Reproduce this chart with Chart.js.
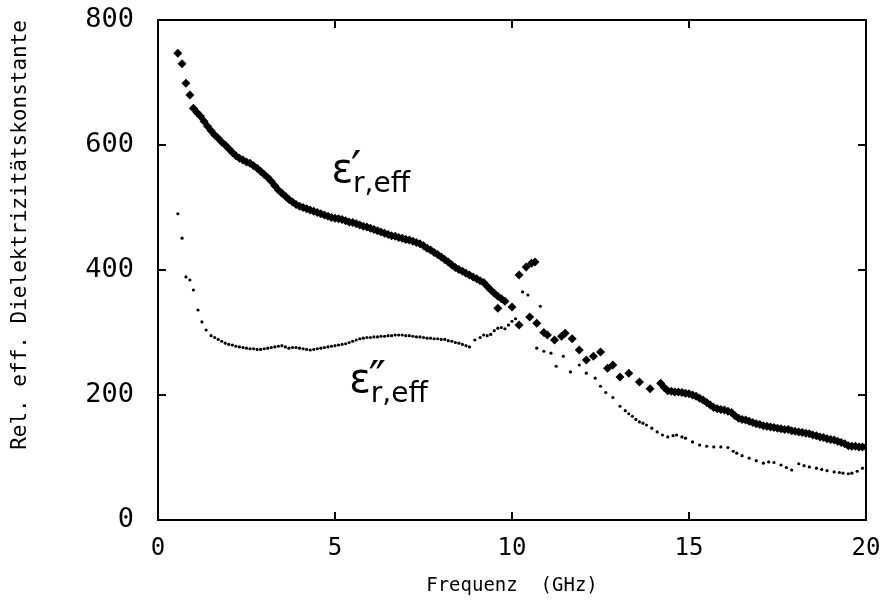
<!DOCTYPE html>
<html>
<head>
<meta charset="utf-8">
<script src="https://cdn.jsdelivr.net/npm/chart.js@4"></script>
<style>
  html, body { margin: 0; padding: 0; background: #fff; }
  canvas { display: block; }
</style>
</head>
<body>
<canvas id="myGraph" width="882" height="607"></canvas>
<script>
// Frequenz (GHz) und Werte
const freqReal = [0.56, 0.68, 0.79, 0.9,
  1.0, 1.1, 1.2, 1.3, 1.4, 1.5, 1.6, 1.7, 1.8, 1.9, 2.0, 2.1, 2.2, 2.3, 2.4, 2.5, 2.6, 2.7, 2.8, 2.9,
  3.0, 3.1, 3.2, 3.3, 3.4, 3.5, 3.6, 3.7, 3.8, 3.9, 4.0, 4.1, 4.2, 4.3, 4.4, 4.5, 4.6, 4.7, 4.8, 4.9,
  5.0, 5.1, 5.2, 5.3, 5.4, 5.5, 5.6, 5.7, 5.8, 5.9, 6.0, 6.1, 6.2, 6.3, 6.4, 6.5, 6.6, 6.7, 6.8, 6.9,
  7.0, 7.1, 7.2, 7.3, 7.4, 7.5, 7.6, 7.7, 7.8, 7.9, 8.0, 8.1, 8.2, 8.3, 8.4, 8.5, 8.6, 8.7, 8.8, 8.9,
  9.0, 9.1, 9.2, 9.3, 9.4, 9.5, 9.6, 9.7, 9.8,
  9.6, 10.0, 10.2, 10.2, 10.4, 10.55, 10.65, 10.5, 10.7, 10.9, 11.0, 11.2, 11.4, 11.5, 11.7, 11.9,
  12.1, 12.3, 12.5, 12.7, 12.85, 13.05, 13.3, 13.6, 13.9, 14.2,
  14.3, 14.4, 14.5, 14.6, 14.7, 14.8, 14.9, 15.0, 15.1, 15.2, 15.3, 15.4, 15.5, 15.6, 15.7, 15.8, 15.9,
  16.0, 16.1, 16.2, 16.3, 16.4, 16.5, 16.6, 16.7, 16.8, 16.9, 17.0, 17.1, 17.2, 17.3, 17.4, 17.5, 17.6, 17.7, 17.8, 17.9,
  18.0, 18.1, 18.2, 18.3, 18.4, 18.5, 18.6, 18.7, 18.8, 18.9, 19.0, 19.1, 19.2, 19.3, 19.4, 19.5, 19.6, 19.7, 19.8, 19.9, 20.0];
const epsReal = [747, 730, 699, 680,
  659, 652, 646, 638, 630, 623, 616, 611, 605, 600, 594, 588, 583, 579, 576, 573, 571, 567, 563, 558,
  553, 548, 542, 535, 528, 523, 518, 513, 509, 505, 502, 500, 498, 496, 494, 492, 490, 488, 486, 484,
  483, 482, 481, 479, 477, 476, 474, 472, 470, 469, 467, 465, 463, 461, 459, 457, 455, 454, 452, 451,
  449, 448, 446, 444, 442, 439, 435, 432, 428, 425, 421, 417, 413, 408, 404, 401, 398, 395, 392, 389,
  386, 383, 380, 374, 368, 363, 358, 354, 350,
  339, 341, 312, 392, 405, 411, 413, 325, 315, 300, 296, 288, 294, 299, 290, 272,
  256, 262, 269, 243, 248, 229, 235, 221, 210, 219,
  212, 207, 206, 205, 205, 204, 203, 202, 200, 198, 195, 192, 188, 184, 180, 178, 177,
  176, 174, 172, 167, 163, 161, 160, 158, 156, 154, 153, 151, 150, 149, 148, 147, 146, 145, 145, 143,
  142, 141, 140, 139, 138, 136, 135, 133, 132, 130, 129, 128, 126, 124, 122, 119, 118, 118, 117, 117, 117];

const freqImag = [0.56, 0.68, 0.79, 0.9, 1.0, 1.13, 1.24, 1.36,
  1.5, 1.6, 1.7, 1.8, 1.9, 2.0, 2.1, 2.2, 2.3, 2.4, 2.5, 2.6, 2.7, 2.8, 2.9,
  3.0, 3.1, 3.2, 3.3, 3.4, 3.5, 3.6, 3.7, 3.8, 3.9, 4.0, 4.1, 4.2, 4.3, 4.4, 4.5, 4.6, 4.7, 4.8, 4.9,
  5.0, 5.1, 5.2, 5.3, 5.4, 5.5, 5.6, 5.7, 5.8, 5.9, 6.0, 6.1, 6.2, 6.3, 6.4, 6.5, 6.6, 6.7, 6.8, 6.9,
  7.0, 7.1, 7.2, 7.3, 7.4, 7.5, 7.6, 7.7, 7.8, 7.9, 8.0, 8.1, 8.2, 8.3, 8.4, 8.5, 8.6, 8.7, 8.8,
  8.95, 9.1, 9.2, 9.3, 9.4, 9.5, 9.6, 9.7, 9.8, 9.9, 10.0, 10.1, 10.3, 10.45, 10.8,
  10.7, 10.9, 11.1, 11.25, 11.45, 11.65, 11.9, 12.1, 12.35, 12.5, 12.65, 12.85,
  13.05, 13.2, 13.3, 13.4, 13.5, 13.6, 13.7, 13.8, 13.95, 14.1, 14.25, 14.4, 14.55, 14.65, 14.8, 14.9,
  15.1, 15.3, 15.5, 15.7, 15.9, 16.1, 16.25, 16.35, 16.5, 16.7, 16.9, 17.1, 17.25, 17.4, 17.6, 17.75, 17.9,
  18.1, 18.25, 18.4, 18.6, 18.75, 18.9, 19.1, 19.25, 19.35, 19.5, 19.6, 19.75, 19.9];
const epsImag = [490, 451, 389, 384, 368, 336, 317, 304,
  295, 292, 289, 286, 283, 281, 280, 278, 277, 276, 275, 274, 274, 273, 273,
  274, 275, 276, 277, 278, 279, 277, 275, 276, 276, 275, 274, 273, 272, 273, 274, 275, 276, 277, 278,
  279, 280, 281, 282, 284, 286, 288, 290, 291, 292, 292, 293, 293, 294, 294, 295, 295, 296, 296, 296,
  295, 295, 294, 293, 293, 292, 291, 291, 290, 290, 289, 289, 287, 286, 284, 283, 281, 279, 277,
  288, 292, 296, 295, 297, 303, 307, 308, 306, 312, 318, 322, 365, 360, 342,
  275, 270, 267, 246, 262, 237, 248, 235, 227, 214, 204, 196,
  182, 175, 170, 166, 161, 157, 155, 152, 147, 141, 136, 133, 135, 136, 133, 131,
  125, 120, 118, 117, 117, 116, 110, 107, 103, 99, 95, 91, 93, 92, 88, 84, 80,
  90, 87, 85, 83, 81, 79, 77, 76, 75, 74, 75, 78, 83];

const xTicks = [0, 5, 10, 15, 20];
const yTicks = [0, 200, 400, 600, 800];

const toPoints = (xs, ys) => xs.map((x, i) => ({ x: x, y: ys[i] }));

// Rahmen mit nach innen zeigenden Strichen, plus Kurvenbeschriftung
const framePlugin = {
  id: "frame",
  afterDatasetsDraw(chart) {
    const { ctx, chartArea: a, scales } = chart;
    ctx.save();
    ctx.strokeStyle = "#000";
    ctx.lineWidth = 2;
    ctx.strokeRect(a.left, a.top, a.right - a.left, a.bottom - a.top);
    ctx.beginPath();
    xTicks.slice(1, -1).forEach((v) => {
      const px = scales.x.getPixelForValue(v);
      ctx.moveTo(px, a.bottom); ctx.lineTo(px, a.bottom - 8);
      ctx.moveTo(px, a.top); ctx.lineTo(px, a.top + 8);
    });
    yTicks.slice(1, -1).forEach((v) => {
      const py = scales.y.getPixelForValue(v);
      ctx.moveTo(a.left, py); ctx.lineTo(a.left + 8, py);
      ctx.moveTo(a.right, py); ctx.lineTo(a.right - 8, py);
    });
    ctx.stroke();

    const label = (fx, fy, prime) => {
      const x = scales.x.getPixelForValue(fx);
      const y = scales.y.getPixelForValue(fy);
      ctx.fillStyle = "#000";
      ctx.textBaseline = "alphabetic";
      ctx.font = "40px 'DejaVu Sans'";
      ctx.fillText("ε", x, y);
      const w = ctx.measureText("ε").width;
      ctx.font = "28px 'DejaVu Sans'";
      ctx.fillText("r,eff", x + w, y + 10);
      ctx.font = "46px 'DejaVu Sans'";
      ctx.fillText(prime, x + w - 2, y + 2);
    };
    label(4.9, 541, "′");
    label(5.4, 205, "″");
    ctx.restore();
  },
};

const ctx = document.getElementById("myGraph").getContext("2d");
new Chart(ctx, {
  type: "scatter",
  data: {
    datasets: [
      {
        label: "eps_real",
        data: toPoints(freqReal, epsReal),
        pointStyle: "rectRot",
        pointRadius: 4.5,
        backgroundColor: "#000",
        borderColor: "#000",
        borderWidth: 0,
      },
      {
        label: "eps_imag",
        data: toPoints(freqImag, epsImag),
        pointStyle: "circle",
        pointRadius: 1.6,
        backgroundColor: "#000",
        borderColor: "#000",
        borderWidth: 0,
      },
    ],
  },
  options: {
    responsive: false,
    animation: false,
    layout: { padding: 0 },
    plugins: {
      legend: { display: false },
      tooltip: { enabled: false },
    },
    scales: {
      x: {
        type: "linear",
        min: 0,
        max: 20,
        afterBuildTicks: (scale) => { scale.ticks = xTicks.map((v) => ({ value: v })); },
        afterFit: (scale) => {
          scale.height = 87;
          scale.paddingLeft = 0;
          scale.paddingRight = 16;
        },
        grid: { display: false, drawTicks: false },
        border: { display: false },
        ticks: { color: "#000", padding: 14, font: { family: "DejaVu Sans Mono", size: 24 } },
        title: {
          display: true,
          text: "Frequenz  (GHz)",
          color: "#000",
          padding: { top: 4, bottom: 10 },
          font: { family: "DejaVu Sans Mono", size: 19 },
        },
      },
      y: {
        min: 0,
        max: 800,
        afterBuildTicks: (scale) => { scale.ticks = yTicks.map((v) => ({ value: v })); },
        afterFit: (scale) => {
          scale.width = 158;
          scale.paddingTop = 20;
          scale.paddingBottom = 0;
        },
        grid: { display: false, drawTicks: false },
        border: { display: false },
        ticks: { color: "#000", padding: 24, font: { family: "DejaVu Sans Mono", size: 27 } },
        title: {
          display: true,
          align: "end",
          text: "Rel. eff. Dielektrizitätskonstante",
          color: "#000",
          padding: { bottom: 0, top: 8 },
          font: { family: "DejaVu Sans Mono", size: 21 },
        },
      },
    },
  },
  plugins: [framePlugin],
});
</script>
</body>
</html>
